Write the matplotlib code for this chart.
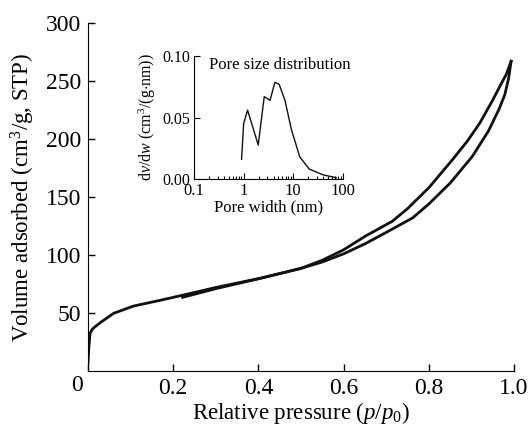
import matplotlib
matplotlib.use("Agg")
import matplotlib.pyplot as plt
from matplotlib.ticker import LogLocator, NullFormatter

plt.rcParams['font.family'] = ['Liberation Serif', 'DejaVu Serif']
plt.rcParams['mathtext.fontset'] = 'custom'
plt.rcParams['mathtext.rm'] = 'Liberation Serif'
plt.rcParams['mathtext.it'] = 'Liberation Serif:italic'

# adsorption branch
ads_p = [0.0, 0.002, 0.005, 0.01, 0.016, 0.03, 0.06, 0.107, 0.17, 0.224, 0.3, 0.405,
         0.45, 0.5, 0.55, 0.6, 0.652, 0.7, 0.762, 0.8, 0.85, 0.902, 0.94, 0.965,
         0.978, 0.987, 0.993]
ads_v = [7, 20, 32.5, 36, 38, 42, 49.7, 56, 61, 65.5, 72, 80,
         84, 88.5, 94, 101, 110, 119.5, 132, 144, 162, 185, 207, 226,
         238, 252, 267]
# desorption branch
des_p = [0.993, 0.982, 0.969, 0.949, 0.92, 0.89, 0.855, 0.8, 0.75, 0.714, 0.652,
         0.6, 0.55, 0.5, 0.45, 0.4, 0.3, 0.222]
des_v = [267, 256, 247, 233, 214, 198, 182, 158, 140, 129, 116.5,
         104.5, 95.5, 88.5, 84, 79.5, 71, 63.5]
# pore size distribution
psd_w = [0.91, 1.0, 1.2, 1.97, 2.6, 3.4, 4.27, 5.2, 6.8, 9.2, 13.5, 21, 40, 74]
psd_y = [0.016, 0.045, 0.056, 0.0276, 0.067, 0.064, 0.0786, 0.077, 0.064, 0.040,
         0.018, 0.008, 0.0033, 0.001]

fig = plt.figure(figsize=(5.3, 4.25), dpi=100)
ax = fig.add_axes([0.166, 0.127, 0.804, 0.819])
ax.plot(ads_p, ads_v, color='#111111', lw=2)
ax.plot(des_p, des_v, color='#111111', lw=2)
ax.set_xlim(0, 1.0)
ax.set_ylim(0, 300)
ax.set_xticks([0, 0.2, 0.4, 0.6, 0.8, 1.0])
ax.set_xticklabels(['', '0.2', '0.4', '0.6', '0.8', '1.0'])
ax.set_yticks([50, 100, 150, 200, 250, 300])
ax.tick_params(direction='in', labelsize=17, length=5, width=1, pad=5)
for s in ['top', 'right']:
    ax.spines[s].set_visible(False)
ax.set_xlabel(r'Relative pressure ($p$/$p_\mathrm{0}$)', fontsize=16.5, labelpad=1)
ax.set_ylabel(r'Volume adsorbed (cm$^3$/g, STP)', fontsize=16.5, labelpad=6)
fig.text(0.145, 0.093, '0', fontsize=17, ha='center', va='center')

ins = fig.add_axes([0.366, 0.579, 0.281, 0.289])
ins.plot(psd_w, psd_y, color='#111111', lw=1)
ins.set_xscale('log')
ins.set_xlim(0.1, 100)
ins.set_ylim(0, 0.1)
ins.set_xticks([0.1, 1, 10, 100])
ins.set_xticklabels(['0.1', '1', '10', '100'])
ins.xaxis.set_minor_locator(LogLocator(base=10, subs=range(2, 10)))
ins.xaxis.set_minor_formatter(NullFormatter())
ins.set_yticks([0, 0.05, 0.1])
ins.set_yticklabels(['0.00', '0.05', '0.10'])
ins.tick_params(which='both', direction='in', labelsize=12, width=0.8, pad=3)
ins.tick_params(axis='y', labelsize=11.5, pad=3)
ins.tick_params(which='major', length=4)
ins.tick_params(which='minor', length=2)
for s in ['top', 'right']:
    ins.spines[s].set_visible(False)
ins.set_xlabel('Pore width (nm)', fontsize=12, labelpad=0)
ins.set_ylabel(r'd$v$/d$w$ (cm$^3$/(g$\cdot$nm))', fontsize=11.5, labelpad=3)
ins.text(0.1, 0.93, 'Pore size distribution', transform=ins.transAxes,
         fontsize=12, ha='left', va='center', clip_on=False)

fig.savefig('out.png', dpi=100)
